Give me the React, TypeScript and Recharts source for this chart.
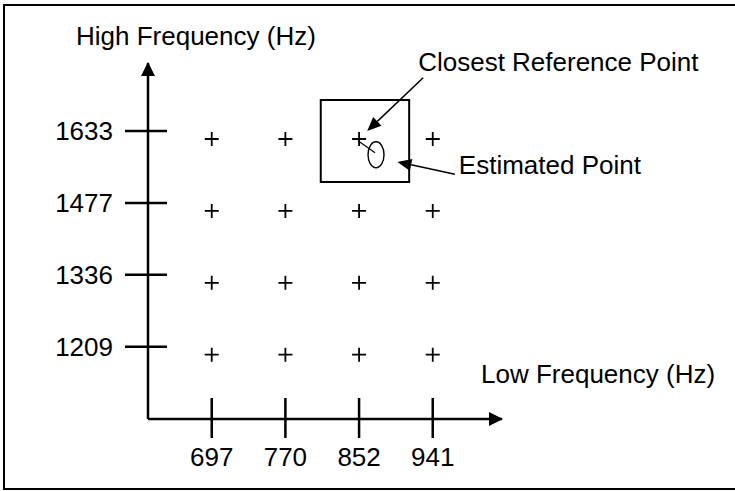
import {
  ScatterChart, Scatter, XAxis, YAxis,
  ReferenceArea, ReferenceDot, ReferenceLine
} from 'recharts';

// DTMF frequencies (tick labels); points sit on the index grid 0..3
const lowFreqs = [697, 770, 852, 941];
const highFreqs = [1209, 1336, 1477, 1633];

const xTitle = 'Low Frequency (Hz)';
const yTitle = 'High Frequency (Hz)';

// annotation positions, in index units of the grid
const estimatedPoint = { li: 2.23, hi: 2.67 };
const searchBox = { x1: 1.48, x2: 2.68, y1: 2.29, y2: 3.43 };
const closestArrow = [{ x: 2.87, y: 3.74 }, { x: 2.11, y: 3.0 }];
const estimatedArrow = [{ x: 3.3, y: 2.4 }, { x: 2.52, y: 2.57 }];

const X_DOMAIN: [number, number] = [-0.865, 3.94];
const Y_DOMAIN: [number, number] = [-1.006, 3.946];

const FONT = '"Liberation Sans", Arial, Helvetica, sans-serif';
const FS = 26;

const gridPoints = lowFreqs.flatMap((lf, i) =>
  highFreqs.map((hf, j) => ({ li: i, hi: j, low: lf, high: hf }))
);

const PlusMark = (props: any) => {
  const { cx, cy } = props;
  const y = cy + 8;
  return (
    <path
      d={`M${cx - 7},${y} H${cx + 7} M${cx},${y - 7} V${y + 7}`}
      stroke="#000"
      strokeWidth={1.8}
      fill="none"
    />
  );
};

const XTick = (props: any) => {
  const { x, y, payload } = props;
  return (
    <g>
      <line x1={x} y1={y - 21} x2={x} y2={y + 19} stroke="#000" strokeWidth={2.5} />
      <text x={x} y={y + 47} textAnchor="middle" fontFamily={FONT} fontSize={FS} fill="#000">
        {lowFreqs[payload.value]}
      </text>
    </g>
  );
};

const YTick = (props: any) => {
  const { x, y, payload } = props;
  return (
    <g>
      <line x1={x - 23} y1={y} x2={x + 19} y2={y} stroke="#000" strokeWidth={2.5} />
      <text x={x - 35} y={y + 9} textAnchor="end" fontFamily={FONT} fontSize={FS} fill="#000">
        {highFreqs[payload.value]}
      </text>
    </g>
  );
};

const YArrow = (props: any) => {
  const { cx, cy } = props;
  return (
    <g>
      <path d={`M${cx},${cy - 1} L${cx + 7},${cy + 13} L${cx - 7},${cy + 13} Z`} fill="#000" />
      <text x={cx - 72} y={cy - 18} fontFamily={FONT} fontSize={FS} fill="#000">{yTitle}</text>
    </g>
  );
};

const XArrow = (props: any) => {
  const { cx, cy } = props;
  return (
    <g>
      <path d={`M${cx + 1},${cy} L${cx - 13},${cy - 7} L${cx - 13},${cy + 7} Z`} fill="#000" />
      <text x={cx - 21} y={cy - 36} fontFamily={FONT} fontSize={FS} fill="#000">{xTitle}</text>
    </g>
  );
};

const EstimateMark = (props: any) => {
  const { cx, cy } = props;
  return (
    <g>
      <line x1={cx - 18} y1={cy - 14} x2={cx - 1} y2={cy - 2} stroke="#000" strokeWidth={1.2} />
      <ellipse cx={cx} cy={cy} rx={8} ry={13} fill="none" stroke="#000" strokeWidth={1.4} />
    </g>
  );
};

const makeCallout = (label: string, dx: number, dy: number) => (props: any) => {
  const { x1, y1, x2, y2 } = props;
  const ang = Math.atan2(y2 - y1, x2 - x1);
  const len = 14;
  const hw = 6;
  const bx = x2 - len * Math.cos(ang);
  const by = y2 - len * Math.sin(ang);
  const px = -Math.sin(ang) * hw;
  const py = Math.cos(ang) * hw;
  return (
    <g>
      <line x1={x1} y1={y1} x2={bx} y2={by} stroke="#000" strokeWidth={1.5} />
      <path d={`M${x2},${y2} L${bx + px},${by + py} L${bx - px},${by - py} Z`} fill="#000" />
      <text x={x1 + dx} y={y1 + dy} fontFamily={FONT} fontSize={FS} fill="#000">{label}</text>
    </g>
  );
};

export default function App() {
  return (
    <div style={{ position: 'absolute', left: 0, top: 0, width: 735, height: 491, background: '#fff' }}>
      <div
        style={{
          position: 'absolute', left: 3, top: 4, width: 732, height: 486,
          border: '2px solid #000', borderRight: 'none', boxSizing: 'border-box'
        }}
      />
      <ScatterChart
        width={735}
        height={491}
        margin={{ top: 63, right: 233, bottom: 0, left: 0 }}
        style={{ position: 'absolute', left: 0, top: 0 }}
      >
        <XAxis
          type="number"
          dataKey="li"
          domain={X_DOMAIN}
          allowDataOverflow
          ticks={[0, 1, 2, 3]}
          interval={0}
          height={72}
          tickSize={0}
          tickMargin={0}
          tickLine={false}
          tick={<XTick />}
          axisLine={{ stroke: '#000', strokeWidth: 2.5 }}
        />
        <YAxis
          type="number"
          dataKey="hi"
          domain={Y_DOMAIN}
          allowDataOverflow
          ticks={[0, 1, 2, 3]}
          interval={0}
          width={148}
          tickSize={0}
          tickMargin={0}
          tickLine={false}
          tick={<YTick />}
          axisLine={{ stroke: '#000', strokeWidth: 2.5 }}
        />
        <Scatter data={gridPoints} shape={<PlusMark />} isAnimationActive={false} />
        <ReferenceArea
          x1={searchBox.x1}
          x2={searchBox.x2}
          y1={searchBox.y1}
          y2={searchBox.y2}
          fill="none"
          stroke="#000"
          strokeWidth={2}
          ifOverflow="visible"
        />
        <ReferenceDot x={estimatedPoint.li} y={estimatedPoint.hi} shape={EstimateMark} ifOverflow="visible" />
        <ReferenceLine
          segment={closestArrow}
          ifOverflow="visible"
          shape={makeCallout('Closest Reference Point', -5, -7)}
        />
        <ReferenceLine
          segment={estimatedArrow}
          ifOverflow="visible"
          shape={makeCallout('Estimated Point', 4, 0)}
        />
        <ReferenceDot x={X_DOMAIN[0]} y={Y_DOMAIN[1]} shape={YArrow} ifOverflow="visible" />
        <ReferenceDot x={X_DOMAIN[1]} y={Y_DOMAIN[0]} shape={XArrow} ifOverflow="visible" />
      </ScatterChart>
    </div>
  );
}
